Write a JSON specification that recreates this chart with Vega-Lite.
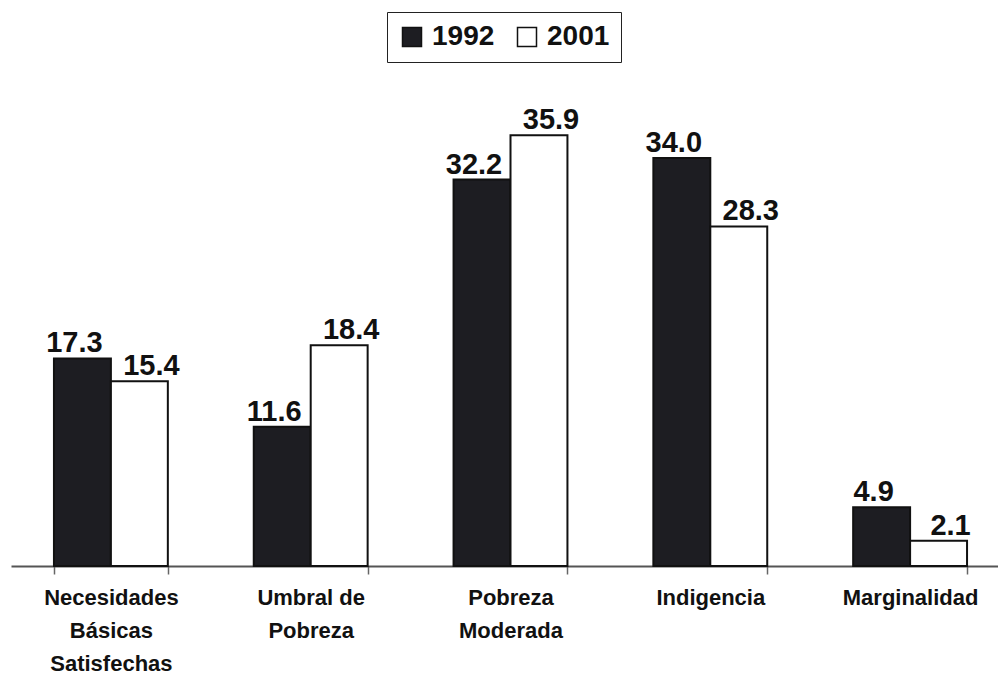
{
  "$schema": "https://vega.github.io/schema/vega-lite/v6.json",
  "autosize": "none",
  "width": 988,
  "height": 486,
  "padding": {"left": 11, "top": 80, "right": 0, "bottom": 112},
  "background": "white",
  "config": {
    "view": {"stroke": null},
    "font": "Liberation Sans"
  },
  "data": {
    "values": [
      {"categoria": "Necesidades|Básicas|Satisfechas", "año": "1992", "valor": 17.3},
      {"categoria": "Necesidades|Básicas|Satisfechas", "año": "2001", "valor": 15.4},
      {"categoria": "Umbral de|Pobreza", "año": "1992", "valor": 11.6},
      {"categoria": "Umbral de|Pobreza", "año": "2001", "valor": 18.4},
      {"categoria": "Pobreza|Moderada", "año": "1992", "valor": 32.2},
      {"categoria": "Pobreza|Moderada", "año": "2001", "valor": 35.9},
      {"categoria": "Indigencia", "año": "1992", "valor": 34.0},
      {"categoria": "Indigencia", "año": "2001", "valor": 28.3},
      {"categoria": "Marginalidad", "año": "1992", "valor": 4.9},
      {"categoria": "Marginalidad", "año": "2001", "valor": 2.1}
    ]
  },
  "encoding": {
    "x": {
      "field": "categoria",
      "type": "nominal",
      "sort": null,
      "scale": {"range": [0, 999], "paddingInner": 0.43, "paddingOuter": 0.215},
      "axis": {
        "title": null,
        "labelAngle": 0,
        "labelExpr": "split(datum.label, '|')",
        "labelFont": "Liberation Sans",
        "labelFontWeight": "bold",
        "labelFontSize": 22,
        "labelLineHeight": 33,
        "labelColor": "#111",
        "labelPadding": 13,
        "labelBaseline": "top",
        "tickBand": "extent",
        "tickColor": "#666",
        "tickSize": 8,
        "tickWidth": 1.5,
        "domainColor": "#555",
        "domainWidth": 2
      }
    },
    "xOffset": {"field": "año", "type": "nominal", "sort": ["1992", "2001"], "scale": {"paddingInner": 0, "paddingOuter": 0}},
    "y": {
      "field": "valor",
      "type": "quantitative",
      "scale": {"domain": [0, 40.5], "nice": false},
      "axis": null
    }
  },
  "layer": [
    {
      "mark": {"type": "bar", "stroke": "#111", "strokeWidth": 2},
      "encoding": {
        "fill": {
          "field": "año",
          "type": "nominal",
          "scale": {"domain": ["1992", "2001"], "range": ["#1d1d22", "#ffffff"]},
          "legend": {
            "title": null,
            "orient": "none",
            "legendX": 376,
            "legendY": -68,
            "direction": "horizontal",
            "symbolType": "square",
            "symbolSize": 361,
            "symbolStrokeColor": "#111",
            "symbolStrokeWidth": 1.5,
            "labelFont": "Liberation Sans",
            "labelFontWeight": "bold",
            "labelFontSize": 28,
            "labelColor": "#111",
            "labelOffset": 6,
            "columnPadding": 18,
            "padding": 11,
            "strokeColor": "#222"
          }
        }
      }
    },
    {
      "transform": [{"filter": "datum['año'] == '1992'"}],
      "mark": {"type": "text", "font": "Liberation Sans", "fontWeight": "bold", "fontSize": 29, "baseline": "alphabetic", "dy": -6, "dx": -8, "color": "#111"},
      "encoding": {"text": {"field": "valor", "type": "quantitative", "format": ".1f"}}
    },
    {
      "transform": [{"filter": "datum['año'] == '2001'"}],
      "mark": {"type": "text", "font": "Liberation Sans", "fontWeight": "bold", "fontSize": 29, "baseline": "alphabetic", "dy": -6, "dx": 12, "color": "#111"},
      "encoding": {"text": {"field": "valor", "type": "quantitative", "format": ".1f"}}
    }
  ]
}
